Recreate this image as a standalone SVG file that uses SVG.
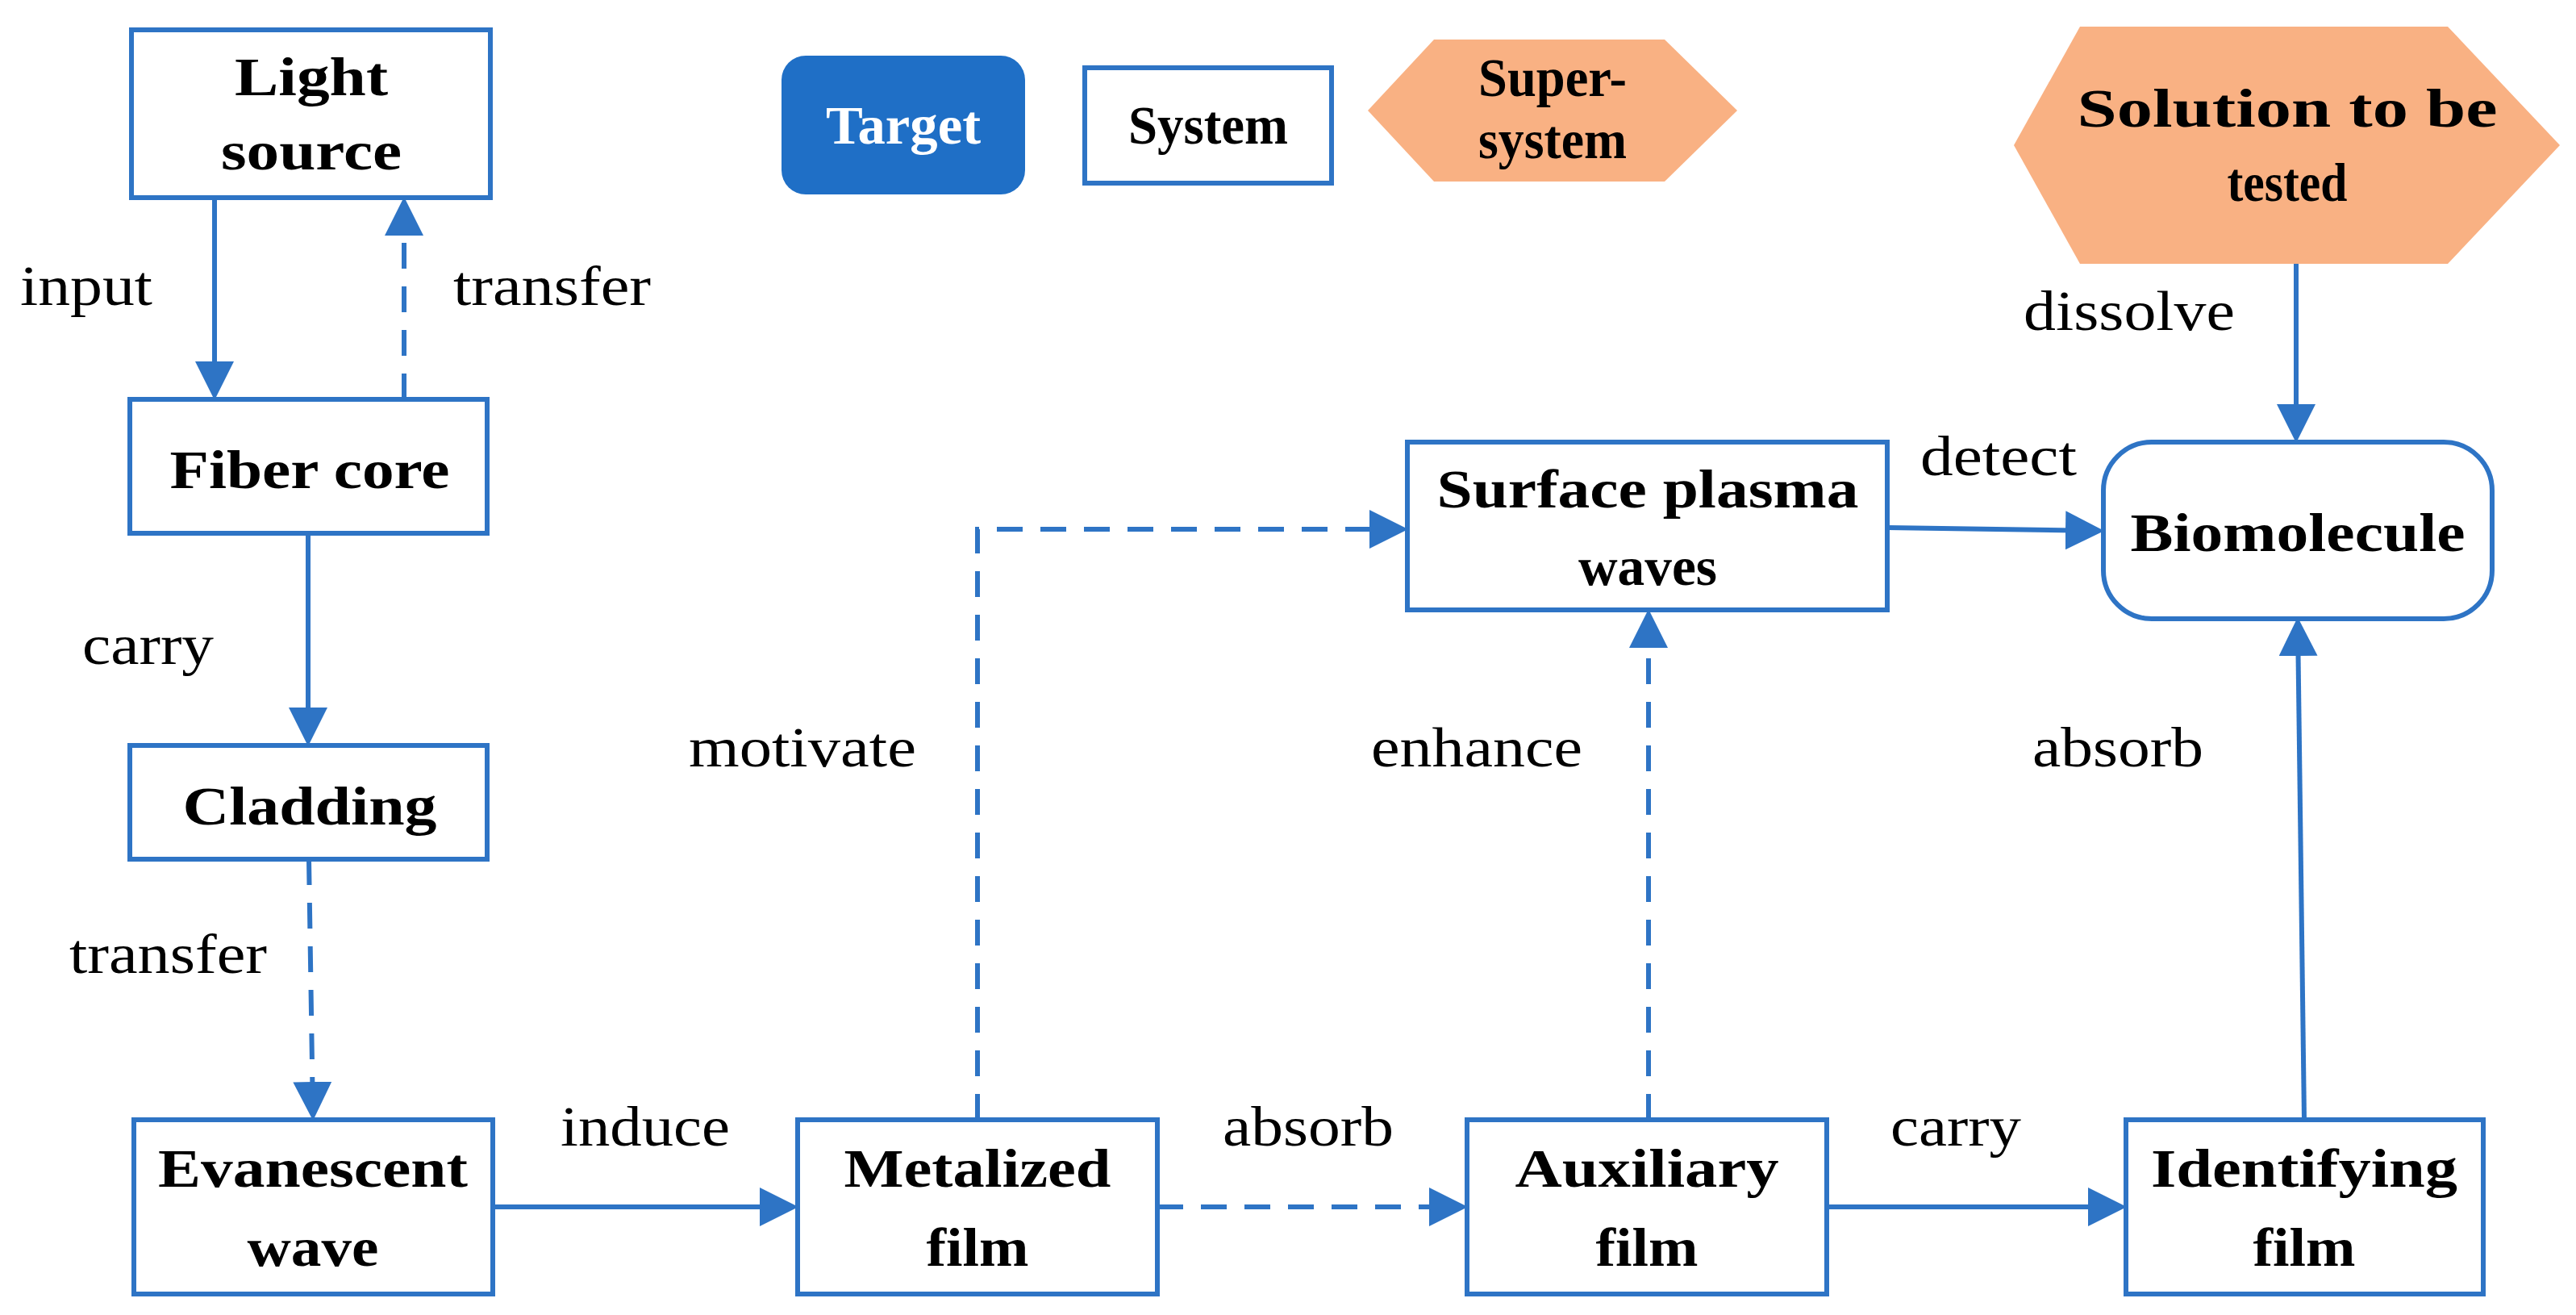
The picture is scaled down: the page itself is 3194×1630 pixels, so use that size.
<svg xmlns="http://www.w3.org/2000/svg" width="3194" height="1630" viewBox="0 0 3194 1630">
<style>
.box{fill:#fff;stroke:#2e74c5;stroke-width:6}
.hex{fill:#f9b183}
.t{font-family:"Liberation Serif",serif;font-weight:bold;font-size:68px;fill:#000;text-anchor:middle}
.l{font-family:"Liberation Serif",serif;font-size:70px;fill:#000}
.c{fill:none;stroke:#2e74c5;stroke-width:6}
.d{stroke-dasharray:32 22}
</style>
<defs><marker id="a" markerWidth="8" markerHeight="8" refX="7" refY="4" orient="auto" markerUnits="strokeWidth"><path d="M0,0 L8,4 L0,8 Z" fill="#2e74c5"/></marker></defs>
<rect width="3194" height="1630" fill="#fff"/>
<g id="connectors">
<path class="c" d="M266,245 V490" marker-end="url(#a)"/>
<path class="c d" d="M501,495 V250" marker-end="url(#a)"/>
<path class="c" d="M382,661 V919" marker-end="url(#a)"/>
<path class="c d" d="M383,1065 L388,1383" marker-end="url(#a)"/>
<path class="c" d="M611,1496 H984" marker-end="url(#a)"/>
<path class="c d" d="M1435,1496 H1814" marker-end="url(#a)"/>
<path class="c" d="M2265,1496 H2631" marker-end="url(#a)"/>
<path class="c d" d="M1212,1388 V656 H1740" marker-end="url(#a)"/>
<path class="c d" d="M2044,1388 V761" marker-end="url(#a)"/>
<path class="c" d="M2340,654 L2603,658" marker-end="url(#a)"/>
<path class="c" d="M2857,1388 L2849,771" marker-end="url(#a)"/>
<path class="c" d="M2847,327 V543" marker-end="url(#a)"/>
<text class="l" x="25" y="378" textLength="164" lengthAdjust="spacingAndGlyphs">input</text>
<text class="l" x="562" y="378" textLength="245" lengthAdjust="spacingAndGlyphs">transfer</text>
<text class="l" x="102" y="823" textLength="163" lengthAdjust="spacingAndGlyphs">carry</text>
<text class="l" x="86" y="1206" textLength="245" lengthAdjust="spacingAndGlyphs">transfer</text>
<text class="l" x="695" y="1420" textLength="210" lengthAdjust="spacingAndGlyphs">induce</text>
<text class="l" x="854" y="950" textLength="282" lengthAdjust="spacingAndGlyphs">motivate</text>
<text class="l" x="1516" y="1420" textLength="212" lengthAdjust="spacingAndGlyphs">absorb</text>
<text class="l" x="1700" y="950" textLength="262" lengthAdjust="spacingAndGlyphs">enhance</text>
<text class="l" x="2344" y="1420" textLength="162" lengthAdjust="spacingAndGlyphs">carry</text>
<text class="l" x="2520" y="950" textLength="212" lengthAdjust="spacingAndGlyphs">absorb</text>
<text class="l" x="2509" y="409" textLength="262" lengthAdjust="spacingAndGlyphs">dissolve</text>
<text class="l" x="2381" y="589" textLength="194" lengthAdjust="spacingAndGlyphs">detect</text>
</g>
<g id="light"><rect class="box" x="163" y="37" width="445" height="208"/><text class="t" x="386" y="118" textLength="190" lengthAdjust="spacingAndGlyphs">Light</text><text class="t" x="386" y="210" textLength="224" lengthAdjust="spacingAndGlyphs">source</text></g>
<g id="fiber"><rect class="box" x="161" y="495" width="443" height="166"/><text class="t" x="384" y="605" textLength="347" lengthAdjust="spacingAndGlyphs">Fiber core</text></g>
<g id="cladding"><rect class="box" x="161" y="924" width="443" height="141"/><text class="t" x="384" y="1022" textLength="315" lengthAdjust="spacingAndGlyphs">Cladding</text></g>
<g id="evanescent"><rect class="box" x="166" y="1388" width="445" height="216"/><text class="t" x="388" y="1471" textLength="384" lengthAdjust="spacingAndGlyphs">Evanescent</text><text class="t" x="388" y="1569" textLength="163" lengthAdjust="spacingAndGlyphs">wave</text></g>
<g id="metalized"><rect class="box" x="989" y="1388" width="446" height="216"/><text class="t" x="1212" y="1471" textLength="331" lengthAdjust="spacingAndGlyphs">Metalized</text><text class="t" x="1212" y="1569" textLength="127" lengthAdjust="spacingAndGlyphs">film</text></g>
<g id="auxiliary"><rect class="box" x="1819" y="1388" width="446" height="216"/><text class="t" x="2042" y="1471" textLength="327" lengthAdjust="spacingAndGlyphs">Auxiliary</text><text class="t" x="2042" y="1569" textLength="127" lengthAdjust="spacingAndGlyphs">film</text></g>
<g id="identifying"><rect class="box" x="2636" y="1388" width="443" height="216"/><text class="t" x="2857" y="1471" textLength="380" lengthAdjust="spacingAndGlyphs">Identifying</text><text class="t" x="2857" y="1569" textLength="127" lengthAdjust="spacingAndGlyphs">film</text></g>
<g id="spw"><rect class="box" x="1745" y="548" width="595" height="208"/><text class="t" x="2043" y="629" textLength="523" lengthAdjust="spacingAndGlyphs">Surface plasma</text><text class="t" x="2043" y="725" textLength="172" lengthAdjust="spacingAndGlyphs">waves</text></g>
<g id="biomolecule"><rect class="box" x="2608" y="548" width="482" height="219" rx="60"/><text class="t" x="2849" y="683" textLength="415" lengthAdjust="spacingAndGlyphs">Biomolecule</text></g>
<g id="solution"><polygon class="hex" points="2497,180 2579,33 3035,33 3174,180 3035,327 2579,327"/><text class="t" x="2836" y="157" textLength="521" lengthAdjust="spacingAndGlyphs">Solution to be</text><text class="t" x="2836" y="249" textLength="149" lengthAdjust="spacingAndGlyphs">tested</text></g>
<g id="legend-target"><rect x="969" y="69" width="302" height="172" rx="30" fill="#1f6fc6"/><text class="t" x="1120" y="178" fill="#fff" style="fill:#fff" textLength="192" lengthAdjust="spacingAndGlyphs">Target</text></g>
<g id="legend-system"><rect class="box" x="1345" y="84" width="306" height="143"/><text class="t" x="1498" y="178" textLength="198" lengthAdjust="spacingAndGlyphs">System</text></g>
<g id="legend-supersystem"><polygon class="hex" points="1696,137 1778,49 2064,49 2154,137 2064,225 1778,225"/><text class="t" x="1925" y="119" textLength="184" lengthAdjust="spacingAndGlyphs">Super-</text><text class="t" x="1925" y="196" textLength="184" lengthAdjust="spacingAndGlyphs">system</text></g>
</svg>
